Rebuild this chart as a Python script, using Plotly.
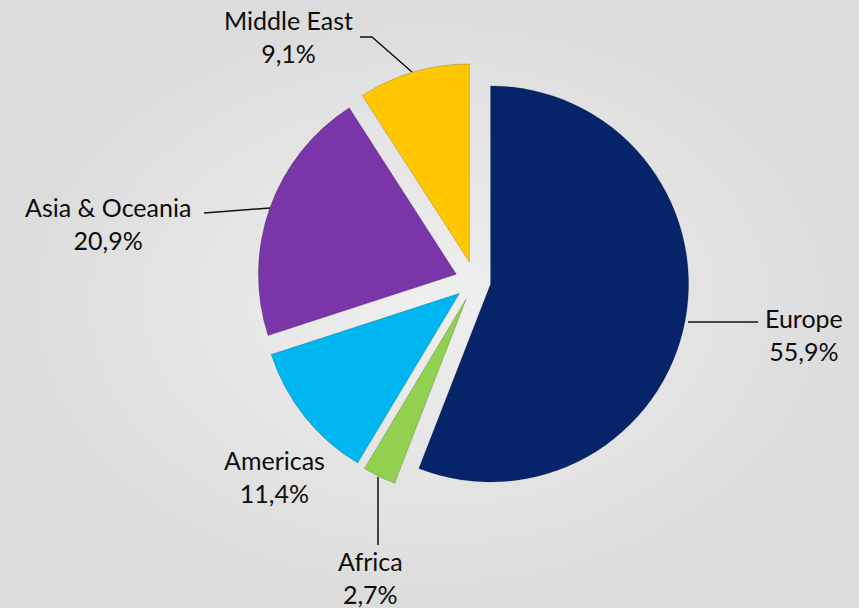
import plotly.graph_objects as go

# ---- data ----
regions = ["Europe", "Africa", "Americas", "Asia & Oceania", "Middle East"]
shares = [55.9, 2.7, 11.4, 20.9, 9.1]
colors = ["#06246a", "#92d050", "#00b6f0", "#7a35a8", "#ffc700"]
pulls = [0.08, 0.1, 0.1, 0.1, 0.1]

W, H = 859, 608

def fmt(v):
    return f"{v:.1f}".replace(".", ",") + "%"

fig = go.Figure()

# radial gray background
fig.add_trace(go.Scatter(
    x=[0, 1, 1, 0, 0], y=[0, 0, 1, 1, 0], mode="lines", fill="toself",
    line=dict(width=0, color="rgba(0,0,0,0)"),
    fillgradient=dict(type="radial", colorscale=[[0, "#efefef"], [1, "#dcdcdc"]]),
    hoverinfo="skip", showlegend=False,
))

fig.add_trace(go.Pie(
    labels=regions, values=shares, sort=False, direction="clockwise", rotation=0,
    marker=dict(colors=colors, line=dict(width=1, color="rgba(0,0,0,0.18)")),
    pull=pulls, textinfo="none", hoverinfo="skip", showlegend=False,
    domain=dict(x=[257.2 / W, 692.8 / W], y=[1 - 498.8 / H, 1 - 63.2 / H]),
))

# label placement (pixel centres) and leader lines
label_pos = {
    "Middle East": (288, 36),
    "Asia & Oceania": (108, 223),
    "Americas": (274, 476),
    "Africa": (370, 577),
    "Europe": (804, 334),
}
leaders = {
    "Middle East": [(360, 37), (372, 37), (412, 72)],
    "Asia & Oceania": [(204, 213), (270, 208)],
    "Europe": [(688, 322), (758, 322)],
    "Africa": [(378, 477), (378, 545)],
}

for name, v in zip(regions, shares):
    px, py = label_pos[name]
    fig.add_annotation(
        x=px / W, y=1 - py / H, xref="paper", yref="paper",
        text=f"{name}<br>{fmt(v)}", showarrow=False, align="center",
        font=dict(family="Lato, sans-serif", size=25, color="#0d0d0d"),
        xanchor="center", yanchor="middle",
    )
    if name in leaders:
        pts = leaders[name]
        path = "M " + " L ".join(f"{x / W},{1 - y / H}" for x, y in pts)
        fig.add_shape(type="path", path=path, xref="paper", yref="paper",
                      line=dict(color="#111111", width=1.5))

fig.update_layout(
    width=W, height=H, margin=dict(l=0, r=0, t=0, b=0),
    paper_bgcolor="#e4e4e4", plot_bgcolor="#e4e4e4",
    xaxis=dict(visible=False, range=[0, 1], fixedrange=True),
    yaxis=dict(visible=False, range=[0, 1], fixedrange=True),
)

fig.write_html("out.html")
